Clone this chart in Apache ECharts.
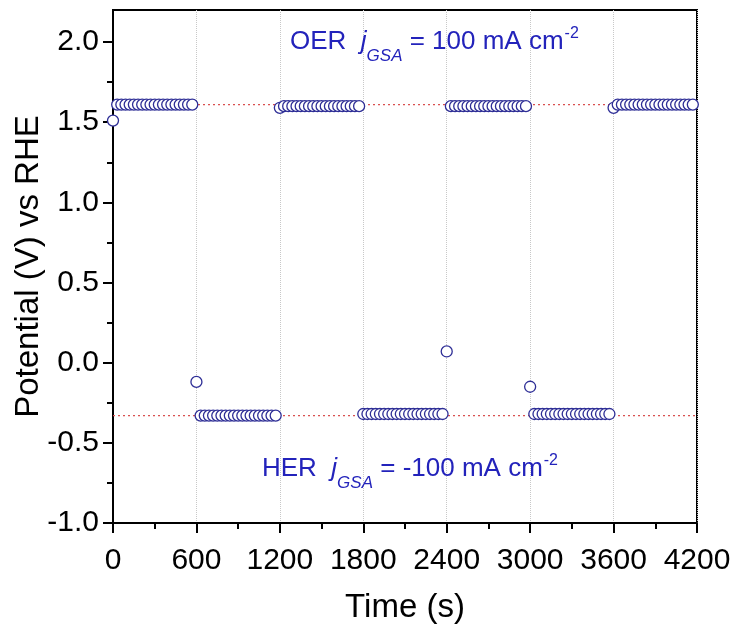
<!DOCTYPE html>
<html>
<head>
<meta charset="utf-8">
<script src="https://cdn.jsdelivr.net/npm/echarts@6/dist/echarts.min.js"></script>
<style>
html,body{margin:0;padding:0;background:#fff;}
#chart{width:738px;height:635px;}
</style>
</head>
<body>
<div id="chart"></div>
<script>
// ---- data ----
const segmentStarts = [0, 600, 1200, 1800, 2400, 3000, 3600];
const sampleOffsets = [0, 30, 60, 90, 120, 150, 180, 210, 240, 270, 300, 330, 360, 390, 420, 450, 480, 510, 540, 570];
const oer1 = [1.51, 1.61, 1.61, 1.61, 1.61, 1.61, 1.61, 1.61, 1.61, 1.61, 1.61, 1.61, 1.61, 1.61, 1.61, 1.61, 1.61, 1.61, 1.61, 1.61];
const her1 = [-0.12, -0.33, -0.33, -0.33, -0.33, -0.33, -0.33, -0.33, -0.33, -0.33, -0.33, -0.33, -0.33, -0.33, -0.33, -0.33, -0.33, -0.33, -0.33, -0.33];
const oer2 = [1.59, 1.60, 1.60, 1.60, 1.60, 1.60, 1.60, 1.60, 1.60, 1.60, 1.60, 1.60, 1.60, 1.60, 1.60, 1.60, 1.60, 1.60, 1.60, 1.60];
const her2 = [-0.32, -0.32, -0.32, -0.32, -0.32, -0.32, -0.32, -0.32, -0.32, -0.32, -0.32, -0.32, -0.32, -0.32, -0.32, -0.32, -0.32, -0.32, -0.32, -0.32];
const oer3 = [0.07, 1.60, 1.60, 1.60, 1.60, 1.60, 1.60, 1.60, 1.60, 1.60, 1.60, 1.60, 1.60, 1.60, 1.60, 1.60, 1.60, 1.60, 1.60, 1.60];
const her3 = [-0.15, -0.32, -0.32, -0.32, -0.32, -0.32, -0.32, -0.32, -0.32, -0.32, -0.32, -0.32, -0.32, -0.32, -0.32, -0.32, -0.32, -0.32, -0.32, -0.32];
const oer4 = [1.59, 1.61, 1.61, 1.61, 1.61, 1.61, 1.61, 1.61, 1.61, 1.61, 1.61, 1.61, 1.61, 1.61, 1.61, 1.61, 1.61, 1.61, 1.61, 1.61];
const segments = [oer1, her1, oer2, her2, oer3, her3, oer4];
const oerRef = 1.61;
const herRef = -0.33;
const xTicks = [0, 600, 1200, 1800, 2400, 3000, 3600, 4200];
const yTicks = [-1.0, -0.5, 0.0, 0.5, 1.0, 1.5, 2.0];
const yMinorTicks = [-0.75, -0.25, 0.25, 0.75, 1.25, 1.75];

// ---- build ----
const points = [];
segments.forEach((vals, s) => {
  vals.forEach((v, i) => points.push([segmentStarts[s] + sampleOffsets[i], v]));
});

const FONT = "'Liberation Sans', Arial, sans-serif";
const BLUE = '#2323bb';
const chart = echarts.init(document.getElementById('chart'), null, {renderer: 'canvas'});
const grid = {left: 113, right: 41, top: 10, bottom: 112};

function richStyle() {
  return {
    n: {fontFamily: FONT, fontSize: 26, fill: BLUE, lineHeight: 32, verticalAlign: 'middle'},
    j: {fontFamily: FONT, fontSize: 26, fontStyle: 'italic', fill: BLUE, lineHeight: 32, verticalAlign: 'middle'},
    sub: {fontFamily: FONT, fontSize: 17, fontStyle: 'italic', fill: BLUE, lineHeight: 17, verticalAlign: 'bottom', padding: [0, 0, -7, 0]},
    sup: {fontFamily: FONT, fontSize: 16, fill: BLUE, lineHeight: 16, verticalAlign: 'top', padding: [0, 0, 0, 1]}
  };
}

chart.setOption({
  animation: false,
  backgroundColor: '#fff',
  grid: Object.assign({show: true, containLabel: false, outerBoundsMode: 'none',
    borderColor: '#000', borderWidth: 2, backgroundColor: 'transparent'}, grid),
  xAxis: {
    type: 'value', min: 0, max: 4200, interval: 600,
    name: 'Time (s)', nameLocation: 'middle', nameGap: 68, nameMoveOverlap: false,
    nameTextStyle: {fontFamily: FONT, fontSize: 33, color: '#000'},
    axisLine: {show: true, onZero: false, lineStyle: {color: '#000', width: 2}},
    axisTick: {show: true, inside: false, length: 10, lineStyle: {color: '#000', width: 2}},
    minorTick: {show: true, splitNumber: 2, length: 6, lineStyle: {color: '#000', width: 2}},
    axisLabel: {fontFamily: FONT, fontSize: 30, color: '#000', margin: 23,
      customValues: xTicks, formatter: v => String(v)},
    splitLine: {show: true, lineStyle: {color: '#c8c8c8', type: 'dotted', width: 1}}
  },
  yAxis: [{
    type: 'value', min: -1.0, max: 2.2,
    name: 'Potential (V) vs RHE', nameLocation: 'middle', nameGap: 68, nameMoveOverlap: false,
    nameTextStyle: {fontFamily: FONT, fontSize: 33, color: '#000'},
    axisLine: {show: true, onZero: false, lineStyle: {color: '#000', width: 2}},
    axisTick: {show: true, inside: false, length: 10, customValues: yTicks, lineStyle: {color: '#000', width: 2}},
    axisLabel: {fontFamily: FONT, fontSize: 30, color: '#000', margin: 14, customValues: yTicks,
      formatter: v => v.toFixed(1)},
    splitLine: {show: false}
  }, {
    type: 'value', min: -1.0, max: 2.2, position: 'left',
    axisLine: {show: false, onZero: false},
    axisTick: {show: true, inside: false, length: 6, customValues: yMinorTicks, lineStyle: {color: '#000', width: 2}},
    axisLabel: {show: false},
    splitLine: {show: false}
  }],
  series: [{
    type: 'line', z: 1, symbol: 'none', silent: true,
    data: [[0, oerRef], [4200, oerRef]],
    lineStyle: {color: '#d95050', width: 1.2, type: [2, 3]}
  }, {
    type: 'line', z: 1, symbol: 'none', silent: true,
    data: [[0, herRef], [4200, herRef]],
    lineStyle: {color: '#d95050', width: 1.2, type: [2, 3]}
  }, {
    type: 'scatter', z: 3, clip: false,
    symbol: 'circle', symbolSize: 11,
    itemStyle: {color: '#fff', borderColor: '#2e2e96', borderWidth: 1.3, opacity: 1},
    data: points
  }],
  graphic: [{
    type: 'text', left: 290, top: 26, z: 10,
    style: {text: '{n|OER  }{j|j}{sub|GSA}{n| = 100 mA cm}{sup|-2}', rich: richStyle()}
  }, {
    type: 'text', left: 262, top: 453, z: 10,
    style: {text: '{n|HER  }{j|j}{sub|GSA}{n| = -100 mA cm}{sup|-2}', rich: richStyle()}
  }]
});
</script>
</body>
</html>
